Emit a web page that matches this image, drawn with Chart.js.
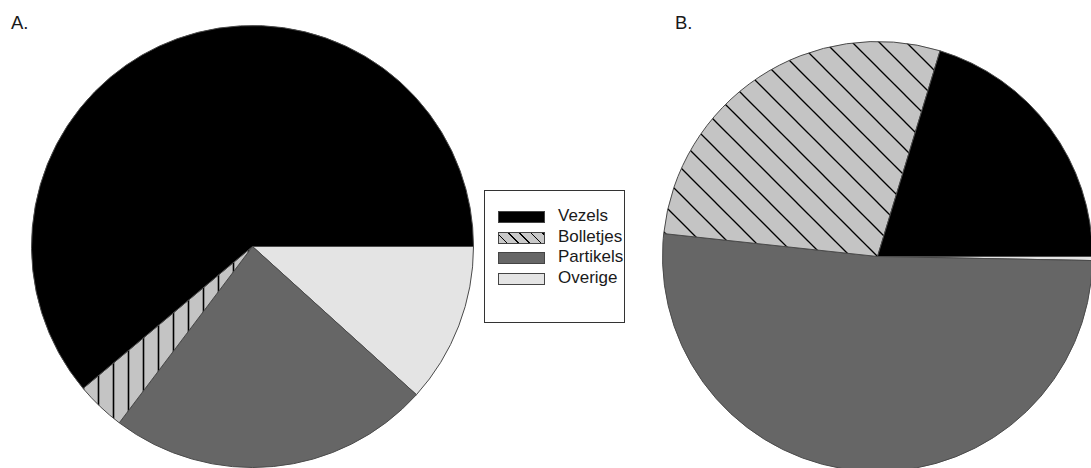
<!DOCTYPE html>
<html>
<head>
<meta charset="utf-8">
<script src="https://cdn.jsdelivr.net/npm/chart.js@4/dist/chart.umd.min.js"></script>
<style>
  html, body { margin:0; padding:0; width:1091px; height:468px; overflow:hidden; background:#fff; }
  body { position:relative; font-family:"Liberation Sans", Arial, sans-serif; color:#1a1a1a; }
  canvas { position:absolute; }
  .lbl { position:absolute; font-size:18.5px; line-height:19px; }
  #legend { position:absolute; left:484px; top:190px; width:139px; height:131px; border:1px solid #333; background:#fff; }
  .row { position:absolute; left:13px; height:20px; width:130px; }
  .sw { position:absolute; left:0; top:4px; width:45px; height:10px; border:1px solid #444; }
  .tx { position:absolute; left:60px; top:0; font-size:17px; line-height:18px; white-space:nowrap; }
</style>
</head>
<body>
<div class="lbl" style="left:11px; top:13px;">A.</div>
<div class="lbl" style="left:675px; top:13px;">B.</div>
<canvas id="pieA" width="443" height="443" style="left:31px; top:25px;"></canvas>
<canvas id="pieB" width="431" height="431" style="left:662px; top:41px;"></canvas>
<div id="legend"></div>
<script>
const categories = ['Vezels', 'Bolletjes', 'Partikels', 'Overige'];
const valuesA = [61.1, 3.6, 23.6, 11.7];
const valuesB = [20.3, 28.0, 51.4, 0.3];

function makePattern(kind) {
  const c = document.createElement('canvas');
  const ctx = c.getContext('2d');
  if (kind === 'vertical') {
    c.width = 15; c.height = 15;
    ctx.fillStyle = '#c4c4c4'; ctx.fillRect(0, 0, 15, 15);
    ctx.strokeStyle = '#000'; ctx.lineWidth = 1.6;
    ctx.beginPath(); ctx.moveTo(7.5, 0); ctx.lineTo(7.5, 15); ctx.stroke();
  } else {
    const s = 27;
    c.width = s; c.height = s;
    ctx.fillStyle = '#c4c4c4'; ctx.fillRect(0, 0, s, s);
    ctx.strokeStyle = '#000'; ctx.lineWidth = 1.3;
    for (let k = -1; k <= 1; k++) {
      ctx.beginPath(); ctx.moveTo(-2, k * s - 2); ctx.lineTo(s + 2, k * s + s + 2); ctx.stroke();
    }
  }
  return document.createElement('canvas').getContext('2d').createPattern(c, 'repeat');
}

const baseColors = { Vezels: '#000000', Partikels: '#666666', Overige: '#e4e4e4' };

function makePie(id, values, hatchKind) {
  const hatch = makePattern(hatchKind);
  const colorsFor = categories.map(c => c === 'Bolletjes' ? hatch : baseColors[c]);
  // drawn counter-clockwise from 3 o'clock in the reference: feed reversed order clockwise
  const labels = categories.slice().reverse();
  const data = values.slice().reverse();
  const colors = colorsFor.slice().reverse();
  new Chart(document.getElementById(id), {
    type: 'pie',
    data: { labels: labels, datasets: [{ data: data, backgroundColor: colors, borderColor: '#4a4a4a', borderWidth: 1 }] },
    options: {
      responsive: false, maintainAspectRatio: false, animation: false,
      devicePixelRatio: 1,
      rotation: 90,
      layout: { padding: 0 },
      plugins: { legend: { display: false }, tooltip: { enabled: false } },
      events: []
    }
  });
}

makePie('pieA', valuesA, 'vertical');
makePie('pieB', valuesB, 'diagonal');

// Legend
const legend = document.getElementById('legend');
const swatchStyles = {
  Vezels: 'background:#000;',
  Bolletjes: 'background-color:#c8c8c8; background-image:repeating-linear-gradient(45deg, #c8c8c8 0px, #c8c8c8 5px, #000 5px, #000 6.3px, #c8c8c8 6.3px, #c8c8c8 8px);',
  Partikels: 'background:#666;',
  Overige: 'background:#e4e4e4;'
};
categories.forEach((c, i) => {
  const row = document.createElement('div');
  row.className = 'row';
  row.style.top = (16 + i * 20.7) + 'px';
  row.innerHTML = '<div class="sw" style="' + swatchStyles[c] + '"></div><div class="tx">' + c + '</div>';
  legend.appendChild(row);
});
</script>
</body>
</html>
